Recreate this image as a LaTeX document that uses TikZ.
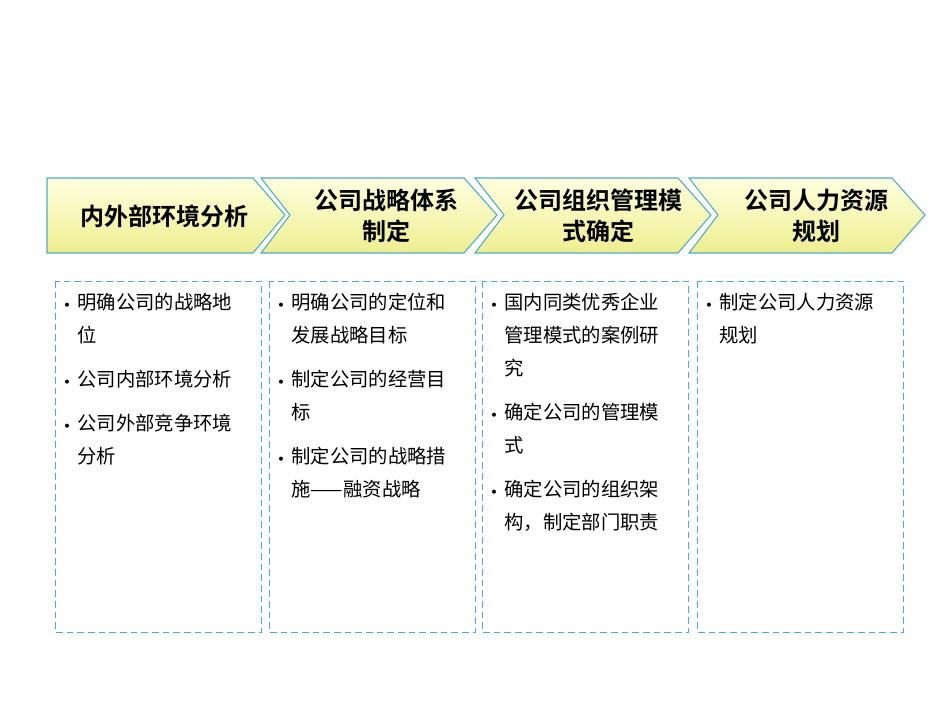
\documentclass[tikz,border=0pt]{standalone}
\usepackage{fontspec}
\newfontfamily\cjk{Noto Sans CJK SC}
\newfontfamily\cjkb{Noto Sans CJK SC Bold}
\definecolor{edgeteal}{HTML}{4BACC6}
\definecolor{chevtop}{HTML}{FFFFE0}
\definecolor{chevbot}{HTML}{EEEE90}
\tikzset{
  chev/.style={draw=edgeteal, line width=0.8pt, top color=chevtop, bottom color=chevbot},
  stage/.style={font=\cjkb\fontsize{18}{23}\selectfont, align=center},
  listbox/.style={draw=edgeteal, dash pattern=on 5pt off 3pt, line width=0.7pt},
  listtext/.style={anchor=north west, inner sep=0pt, font=\cjk\fontsize{14.5}{24.75}\selectfont, align=left}
}
\newcommand{\blt}{\makebox[10pt][l]{\raisebox{1.5pt}{\scriptsize$\bullet$}}}
\newcommand{\ind}{\hspace*{10pt}}
\begin{document}
\begin{tikzpicture}[x=0.75pt,y=-0.75pt]
  \useasboundingbox (0,0) rectangle (950,713);
  % stage chevrons
  \draw[chev] (47,178) -- (253,178) -- (285,215) -- (253,253) -- (47,253) -- cycle;
  \foreach \i in {1,2,3}{
    \pgfmathsetmacro{\xl}{47+214*\i}
    \draw[chev] (\xl,178) -- (\xl+203,178) -- (\xl+236,215) -- (\xl+203,253)
      -- (\xl,253) -- (\xl+29,215) -- cycle;
  }
  \node[stage] (s1) at (164,216) {内外部环境分析};
  \node[stage] (s2) at (386,216) {公司战略体系\\制定};
  \node[stage] (s3) at (598,216) {公司组织管理模\\式确定};
  \node[stage] (s4) at (816,216) {公司人力资源\\规划};
  % lists
  \foreach \x in {55,269,482,697}
    \draw[listbox] (\x,281) rectangle (\x+206,632);
  \node[listtext] (l1) at (64,293) {%
    \blt 明确公司的战略地\\ \ind 位\\[8.25pt]
    \blt 公司内部环境分析\\[8.25pt]
    \blt 公司外部竞争环境\\ \ind 分析};
  \node[listtext] (l2) at (278,293) {%
    \blt 明确公司的定位和\\ \ind 发展战略目标\\[8.25pt]
    \blt 制定公司的经营目\\ \ind 标\\[8.25pt]
    \blt 制定公司的战略措\\ \ind 施——融资战略};
  \node[listtext] (l3) at (491,293) {%
    \blt 国内同类优秀企业\\ \ind 管理模式的案例研\\ \ind 究\\[8.25pt]
    \blt 确定公司的管理模\\ \ind 式\\[8.25pt]
    \blt 确定公司的组织架\\ \ind 构，制定部门职责};
  \node[listtext] (l4) at (706,293) {%
    \blt 制定公司人力资源\\ \ind 规划};
\end{tikzpicture}
\end{document}
